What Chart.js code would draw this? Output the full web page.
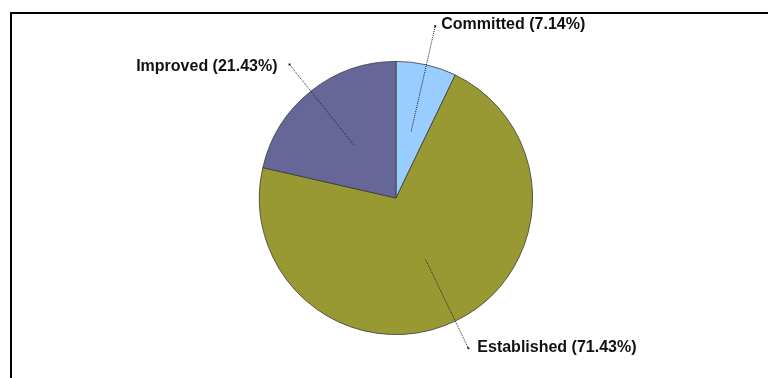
<!DOCTYPE html>
<html>
<head>
<meta charset="utf-8">
<title>Status breakdown</title>
<script src="https://cdn.jsdelivr.net/npm/chart.js@4.4.1/dist/chart.umd.min.js"></script>
<style>
    html, body { margin: 0; padding: 0; background: #fff; overflow: hidden; }
    #wrap { position: relative; width: 768px; height: 378px; }
    /* chart frame: only the top and left edges fall inside the view */
    #frame {
        position: absolute; left: 10px; top: 12px; width: 800px; height: 400px;
        border-top: 2px solid #000; border-left: 2px solid #000; box-sizing: border-box;
    }
    #statusPie { position: absolute; left: 0; top: 0; }
</style>
</head>
<body>
<div id="wrap">
    <div id="frame"></div>
    <canvas id="statusPie" width="768" height="378"></canvas>
</div>
<script>
// Kategoriler ve adet değerleri
const categories = ['Committed', 'Established', 'Improved'];
const counts = [1, 10, 3];
const sliceColors = ['#99ccff', '#999933', '#666699'];

// Etiket çizgilerinin dilim yarıçapına oranla uzunluğu ve metin kaydırmaları
const LEADER_REACH = [1.29, 1.22, 1.25];
const LABEL_GAP = [6, 9, 12];
const LABEL_DY = [-2, -1, 2];

const LABEL_FONT = "bold 16px 'Liberation Sans', Arial, sans-serif";

const total = counts.reduce((a, b) => a + b, 0);
const labelTexts = categories.map((c, i) => `${c} (${(counts[i] / total * 100).toFixed(2)}%)`);

// Dilim ortasından dışarıdaki etikete noktalı çizgi + metin
const leaderLabels = {
    id: 'leaderLabels',
    afterDatasetsDraw(chart) {
        const ctx = chart.ctx;
        const meta = chart.getDatasetMeta(0);
        ctx.save();
        ctx.font = LABEL_FONT;
        ctx.textBaseline = 'middle';
        meta.data.forEach((arc, i) => {
            const p = arc.getProps(['x', 'y', 'startAngle', 'endAngle', 'outerRadius'], true);
            const mid = (p.startAngle + p.endAngle) / 2;
            const cos = Math.cos(mid), sin = Math.sin(mid);
            const x1 = p.x + cos * p.outerRadius * 0.5;
            const y1 = p.y + sin * p.outerRadius * 0.5;
            const x2 = p.x + cos * p.outerRadius * LEADER_REACH[i];
            const y2 = p.y + sin * p.outerRadius * LEADER_REACH[i];

            ctx.strokeStyle = '#222';
            ctx.lineWidth = 1;
            ctx.setLineDash([1, 1]);
            ctx.beginPath();
            ctx.moveTo(x1, y1);
            ctx.lineTo(x2, y2);
            ctx.stroke();
            ctx.setLineDash([]);
            ctx.fillStyle = '#222';
            ctx.fillRect(x2 - 1, y2 - 1, 2, 2);

            ctx.fillStyle = '#111';
            if (cos >= 0) {
                ctx.textAlign = 'left';
                ctx.fillText(labelTexts[i], x2 + LABEL_GAP[i], y2 + LABEL_DY[i]);
            } else {
                ctx.textAlign = 'right';
                ctx.fillText(labelTexts[i], x2 - LABEL_GAP[i], y2 + LABEL_DY[i]);
            }
        });
        ctx.restore();
    }
};

const ctx = document.getElementById('statusPie').getContext('2d');
new Chart(ctx, {
    type: 'pie',
    data: {
        labels: categories,
        datasets: [{
            data: counts,
            backgroundColor: sliceColors,
            borderColor: '#3a3a3a',
            borderWidth: 0.8
        }]
    },
    options: {
        responsive: false,
        animation: false,
        layout: { padding: { top: 61, bottom: 43, left: 100, right: 76 } },
        plugins: {
            legend: { display: false },
            tooltip: { enabled: false }
        }
    },
    plugins: [leaderLabels]
});
</script>
</body>
</html>
